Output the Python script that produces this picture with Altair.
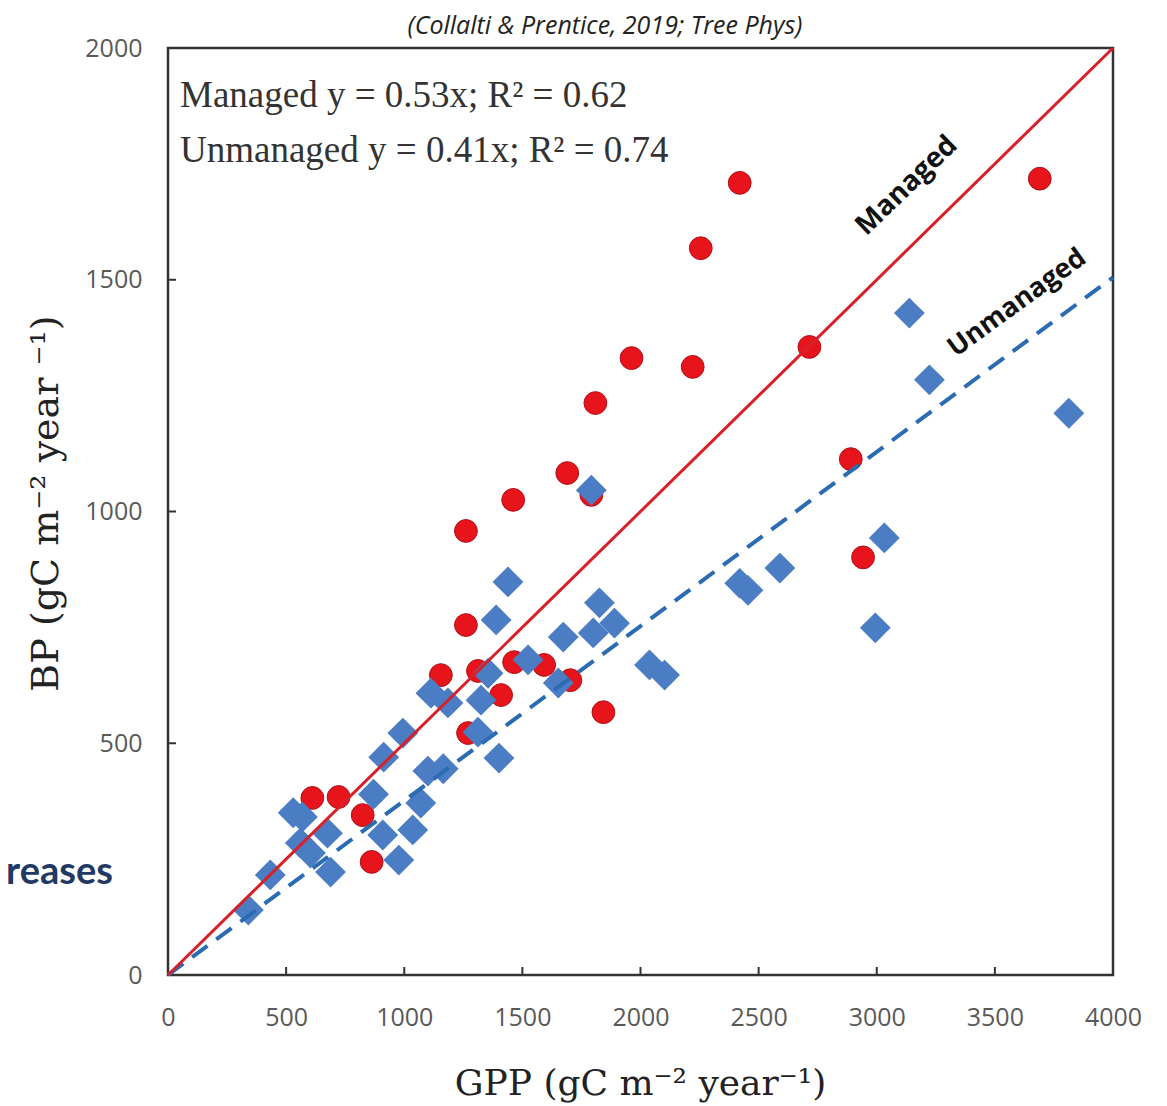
import altair as alt
import pandas as pd

# Managed (red circles)
managed_gpp = [2420, 3690, 2255, 1962, 2221, 2715, 1809, 1690, 1461, 1261, 1792, 2890, 2942,
               1261, 1155, 1312, 1465, 1592, 1703, 1410, 1843, 1270, 611, 722, 824, 862]
managed_bp = [1709, 1718, 1568, 1331, 1312, 1355, 1234, 1083, 1025, 958, 1036, 1113, 901,
              755, 647, 656, 675, 669, 636, 604, 567, 522, 382, 384, 345, 244]

# Unmanaged (blue diamonds)
unmanaged_gpp = [3138, 3223, 3813, 3032, 2590, 2420, 2455, 2994,
                 1792, 1439, 1389, 1826, 1890, 1800, 1673, 2038, 2102, 1524, 1652, 1355,
                 1325, 1185, 1113, 994, 1312, 1401, 1100, 1165, 913, 1070, 870,
                 569, 530, 675, 560, 603, 688, 909, 1036, 977, 433, 340]
unmanaged_bp = [1428, 1284, 1212, 943, 878, 845, 830, 749,
                1046, 848, 766, 803, 759, 738, 729, 669, 647, 680, 630, 651,
                593, 587, 608, 522, 524, 468, 440, 445, 470, 371, 390,
                341, 350, 306, 285, 263, 222, 302, 313, 248, 216, 140]

# Fitted lines as drawn
fit_gpp = [0, 4000]
managed_fit_bp = [0, 2000]
unmanaged_fit_bp = [0, 1505]

x_ticks = [0, 500, 1000, 1500, 2000, 2500, 3000, 3500, 4000]
y_ticks = [0, 500, 1000, 1500, 2000]
x_inner_ticks = [500, 1000, 1500, 2000, 2500, 3000, 3500]
y_inner_ticks = [500, 1000, 1500]

df_m = pd.DataFrame({"GPP": managed_gpp, "BP": managed_bp})
df_u = pd.DataFrame({"GPP": unmanaged_gpp, "BP": unmanaged_bp})
df_fm = pd.DataFrame({"GPP": fit_gpp, "BP": managed_fit_bp})
df_fu = pd.DataFrame({"GPP": fit_gpp, "BP": unmanaged_fit_bp})
df_xt = pd.DataFrame({"GPP": x_inner_ticks})
df_yt = pd.DataFrame({"BP": y_inner_ticks})

W, H = 945, 927

xscale = alt.Scale(domain=[0, 4000], nice=False, zero=False)
yscale = alt.Scale(domain=[0, 2000], nice=False, zero=False)

xaxis = alt.Axis(values=x_ticks, format="d", title="GPP (gC m⁻² year⁻¹)", grid=False,
                 domain=False, ticks=False, labelFont="Open Sans", labelFontSize=25,
                 labelColor="#595959", labelPadding=30, labelFlush=False,
                 titleFont="DejaVu Serif", titleFontSize=36, titleFontWeight="normal",
                 titleColor="#222222", titleX=472, titleY=108, titleBaseline="middle",
                 titleAlign="center")
yaxis = alt.Axis(values=y_ticks, format="d", title="BP  (gC m⁻² year ⁻¹)", grid=False,
                 domain=False, ticks=False, labelFont="Open Sans", labelFontSize=25,
                 labelColor="#595959", labelPadding=26, labelFlush=False,
                 titleFont="DejaVu Serif", titleFontSize=38, titleFontWeight="normal",
                 titleColor="#222222", titleX=-122, titleY=455, titleAngle=270,
                 titleBaseline="middle", titleAlign="center")

X = alt.X("GPP:Q", scale=xscale, axis=xaxis)
Y = alt.Y("BP:Q", scale=yscale, axis=yaxis)

circles = alt.Chart(df_m).mark_point(
    shape="circle", filled=True, size=520, fill="#E8141C", stroke="#B01018",
    strokeWidth=1, opacity=1
).encode(x=X, y=Y)

diamonds = alt.Chart(df_u).mark_point(
    shape="diamond", filled=True, size=950, fill="#4A7DC4", strokeWidth=0, opacity=1
).encode(x=X, y=Y)

unm_line = alt.Chart(df_fu).mark_line(
    color="#2A6BB2", strokeWidth=4, strokeDash=[19, 11]
).encode(x=X, y=Y)

man_line = alt.Chart(df_fm).mark_line(
    color="#D8202A", strokeWidth=3
).encode(x=X, y=Y)

xt = alt.Chart(df_xt).mark_rule(color="#333333", strokeWidth=2).encode(
    x=X, y=alt.value(H), y2=alt.value(H - 8))
yt = alt.Chart(df_yt).mark_rule(color="#333333", strokeWidth=2).encode(
    y=Y, x=alt.value(0), x2=alt.value(8))

def label(text, x, y, **kw):
    return alt.Chart(pd.DataFrame({"t": [text]})).mark_text(**kw).encode(
        text="t:N", x=alt.value(x), y=alt.value(y))

eq1 = label("Managed y = 0.53x; R² = 0.62", 12, 59, align="left", baseline="alphabetic",
            font="Liberation Serif", fontSize=37, color="#333333")
eq2 = label("Unmanaged y = 0.41x; R² = 0.74", 12, 114, align="left", baseline="alphabetic",
            font="Liberation Serif", fontSize=37, color="#333333")
lab_m = label("Managed", 739, 138, align="center", baseline="middle", angle=316,
              font="Open Sans", fontWeight="bold", fontSize=28, color="#111111")
lab_u = label("Unmanaged", 849, 255, align="center", baseline="middle", angle=324,
              font="Open Sans", fontWeight="bold", fontSize=27, color="#111111")
cite = label("(Collalti & Prentice, 2019; Tree Phys)", 437, -22, align="center",
             baseline="middle", font="Open Sans", fontStyle="italic", fontSize=25,
             color="#222222")
side = label("reases", -55, 825, align="right", baseline="middle", font="Lato",
             fontWeight="bold", fontSize=38, color="#1F3864")

chart = alt.layer(
    circles, diamonds, unm_line, man_line, xt, yt, eq1, eq2, lab_m, lab_u, cite, side
).properties(
    width=W, height=H,
    autosize=alt.AutoSizeParams(type="none"),
    padding={"left": 160, "top": 40, "right": 46, "bottom": 128},
    background="white",
).configure_view(
    stroke="#333333", strokeWidth=2.5
)

chart.save("out.html", embed_options={"renderer": "svg", "actions": False})
